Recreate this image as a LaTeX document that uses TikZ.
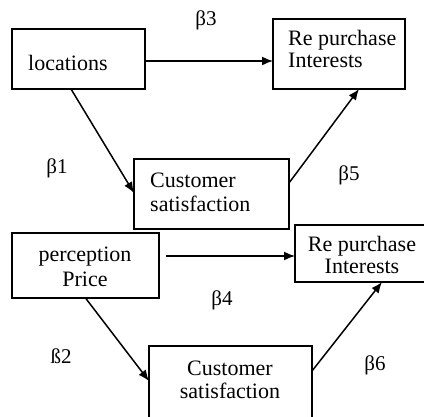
\documentclass[tikz,border=0pt]{standalone}
\usepackage{fontspec}
\setmainfont{Liberation Serif}
\usetikzlibrary{arrows.meta}
\begin{document}
\begin{tikzpicture}[x=1pt,y=-1pt,
  box/.style={draw,line width=1.6pt,rectangle,inner sep=0pt,outer sep=0pt},
  txt/.style={font=\fontsize{22}{24}\selectfont,inner sep=0pt},
  lbl/.style={font=\fontsize{21}{24}\selectfont,inner sep=0pt},
  arr/.style={line width=1.5pt,-{Latex[length=11pt,width=9pt]}}]
\useasboundingbox (0,0) rectangle (424,416);
% boxes
\node[box,minimum width=133pt,minimum height=60pt] (loc) at (78.5,59) {};
\node[box,minimum width=132pt,minimum height=70pt] (ri1) at (339,54) {};
\node[box,minimum width=155pt,minimum height=70pt] (cs1) at (211.5,194) {};
\node[box,minimum width=147pt,minimum height=65pt] (pp) at (85.5,265.5) {};
\node[box,minimum width=135pt,minimum height=57pt] (ri2) at (362.5,253.5) {};
\node[box,minimum width=163pt,minimum height=76pt] (cs2) at (230.5,384) {};
% texts
\node[txt,anchor=base west] (t1) at (28,70) {locations};
\node[txt,anchor=base west] (t2a) at (288,45) {Re purchase};
\node[txt,anchor=base west] (t2b) at (288,67) {Interests};
\node[txt,anchor=base west] (t3a) at (150,187) {Customer};
\node[txt,anchor=base west] (t3b) at (150,211) {satisfaction};
\node[txt,anchor=base] (t4a) at (85,261) {perception};
\node[txt,anchor=base] (t4b) at (85,286) {Price};
\node[txt,anchor=base] (t5a) at (362,251) {Re purchase};
\node[txt,anchor=base] (t5b) at (362,273) {Interests};
\node[txt,anchor=base] (t6a) at (230,375) {Customer};
\node[txt,anchor=base] (t6b) at (230,398) {satisfaction};
% beta labels
\node[lbl] (b3) at (206,20) {β3};
\node[lbl] (b1) at (57,168) {β1};
\node[lbl] (b5) at (349,175) {β5};
\node[lbl] (b4) at (222,300) {β4};
\node[lbl] (b2) at (61,356) {ß2};
\node[lbl] (b6) at (375,365) {β6};
% connectors
\coordinate (locout) at ([yshift=-2pt]loc.east);
\draw[arr] (locout) -- (ri1.west |- locout);
\draw[arr] ([xshift=-7.5pt]loc.south) -- ([yshift=1pt]cs1.west);
\draw[arr] ([yshift=11pt]cs1.east) -- ([xshift=20pt]ri1.south);
\coordinate (ppout) at ([xshift=7pt,yshift=9.5pt]pp.east);
\draw[arr] (ppout) -- (ri2.west |- ppout);
\draw[arr] (pp.south) -- ([yshift=3pt]cs2.west);
\draw[arr] ([yshift=13pt]cs2.east) -- ([xshift=19.5pt]ri2.south);
\end{tikzpicture}
\end{document}
